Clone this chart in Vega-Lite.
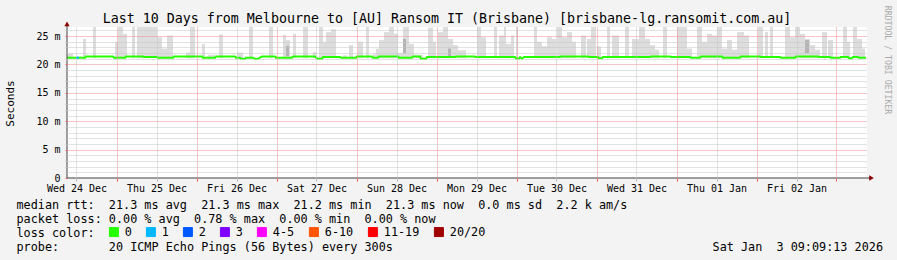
{
  "$schema": "https://vega.github.io/schema/vega-lite/v6.json",
  "width": 800,
  "height": 151,
  "autosize": {"type": "none"},
  "padding": {"left": 67, "top": 27, "right": 30, "bottom": 82},
  "background": "#f3f3f3",
  "title": {
    "text": "Last 10 Days from Melbourne to [AU] Ransom IT (Brisbane) [brisbane-lg.ransomit.com.au]",
    "font": "DejaVu Sans Mono", "fontSize": 13.3, "fontWeight": "normal", "color": "#000000",
    "anchor": "middle", "frame": "group", "dx": -20, "offset": -31, "baseline": "alphabetic"
  },
  "datasets": {
    "smoke": [
      {"start":9.15,"end":10.95,"low":21.1,"high":21.9},
      {"start":13.95,"end":14.85,"low":21.1,"high":24.5},
      {"start":16.95,"end":17.85,"low":21.1,"high":27},
      {"start":23.55,"end":24.45,"low":21.1,"high":24.0},
      {"start":24.45,"end":25.95,"low":21.1,"high":27},
      {"start":25.95,"end":27.15,"low":21.1,"high":25.4},
      {"start":28.65,"end":29.55,"low":21.1,"high":27},
      {"start":30.15,"end":33.15,"low":21.1,"high":27},
      {"start":33.15,"end":36.15,"low":21.1,"high":27},
      {"start":36.15,"end":37.65,"low":21.1,"high":24.8},
      {"start":37.65,"end":39.15,"low":21.1,"high":22.8},
      {"start":39.15,"end":40.95,"low":21.1,"high":25.1},
      {"start":44.85,"end":46.05,"low":21.1,"high":22.1},
      {"start":46.05,"end":47.55,"low":21.1,"high":27},
      {"start":49.65,"end":50.55,"low":21.1,"high":23.6},
      {"start":51.45,"end":53.55,"low":21.1,"high":21.7},
      {"start":54.75,"end":55.95,"low":21.1,"high":25.3},
      {"start":60.15,"end":61.95,"low":21.1,"high":22.1},
      {"start":63.75,"end":64.95,"low":21.1,"high":27},
      {"start":69.75,"end":70.95,"low":21.1,"high":27},
      {"start":73.95,"end":74.85,"low":21.1,"high":25.2},
      {"start":74.85,"end":76.05,"low":21.1,"high":24.3},
      {"start":76.95,"end":77.85,"low":21.1,"high":25.4},
      {"start":79.95,"end":81.45,"low":21.1,"high":27},
      {"start":82.95,"end":83.85,"low":21.1,"high":22.2},
      {"start":84.75,"end":85.95,"low":21.1,"high":27},
      {"start":85.95,"end":86.85,"low":21.1,"high":24.0},
      {"start":86.85,"end":88.35,"low":21.1,"high":25.7},
      {"start":88.35,"end":89.85,"low":21.1,"high":26.2},
      {"start":91.95,"end":93.15,"low":21.1,"high":21.6},
      {"start":93.75,"end":94.95,"low":21.1,"high":23.4},
      {"start":96.45,"end":97.95,"low":21.1,"high":24.0},
      {"start":98.85,"end":99.75,"low":21.1,"high":27},
      {"start":100.95,"end":101.85,"low":21.1,"high":21.8},
      {"start":101.85,"end":102.75,"low":21.1,"high":22.8},
      {"start":102.75,"end":104.25,"low":21.1,"high":24.3},
      {"start":104.25,"end":105.75,"low":21.1,"high":25.7},
      {"start":105.75,"end":107.25,"low":21.1,"high":27},
      {"start":107.25,"end":108.45,"low":21.1,"high":25.4},
      {"start":108.45,"end":109.95,"low":21.1,"high":22.0},
      {"start":109.95,"end":111.75,"low":21.1,"high":27},
      {"start":111.75,"end":113.25,"low":21.1,"high":23.6},
      {"start":113.25,"end":115.95,"low":21.1,"high":21.7},
      {"start":117.45,"end":118.95,"low":21.1,"high":26.5},
      {"start":118.95,"end":119.85,"low":21.1,"high":24.0},
      {"start":120.45,"end":121.95,"low":21.1,"high":25.7},
      {"start":121.95,"end":123.45,"low":21.1,"high":27},
      {"start":123.45,"end":124.95,"low":21.1,"high":24.5},
      {"start":124.95,"end":126.45,"low":21.1,"high":23.4},
      {"start":126.45,"end":128.85,"low":21.1,"high":22.5},
      {"start":132.15,"end":133.35,"low":21.1,"high":27},
      {"start":133.35,"end":134.85,"low":21.1,"high":24.8},
      {"start":137.25,"end":138.15,"low":21.1,"high":27},
      {"start":138.75,"end":140.25,"low":21.1,"high":25.1},
      {"start":140.25,"end":140.85,"low":21.1,"high":27},
      {"start":140.85,"end":142.35,"low":21.1,"high":23.6},
      {"start":142.35,"end":143.25,"low":21.1,"high":25.1},
      {"start":143.85,"end":144.45,"low":21.1,"high":27},
      {"start":149.25,"end":150.15,"low":21.1,"high":27},
      {"start":150.15,"end":151.65,"low":21.1,"high":24.0},
      {"start":151.65,"end":153.15,"low":21.1,"high":23.2},
      {"start":153.15,"end":154.65,"low":21.1,"high":24.8},
      {"start":154.65,"end":155.85,"low":21.1,"high":24.5},
      {"start":156.15,"end":157.65,"low":21.1,"high":27},
      {"start":157.65,"end":159.15,"low":21.1,"high":24.8},
      {"start":159.15,"end":160.65,"low":21.1,"high":25.7},
      {"start":160.65,"end":161.85,"low":21.1,"high":24.0},
      {"start":163.35,"end":164.85,"low":21.1,"high":25.1},
      {"start":165.15,"end":166.35,"low":21.1,"high":24.5},
      {"start":166.35,"end":167.85,"low":21.1,"high":27},
      {"start":168.15,"end":169.35,"low":21.1,"high":23.2},
      {"start":171.15,"end":172.05,"low":21.1,"high":27},
      {"start":172.65,"end":174.75,"low":21.1,"high":25.1},
      {"start":176.55,"end":177.75,"low":21.1,"high":27},
      {"start":178.65,"end":180.75,"low":21.1,"high":24.5},
      {"start":180.75,"end":182.55,"low":21.1,"high":27},
      {"start":182.55,"end":184.05,"low":21.1,"high":24.5},
      {"start":184.05,"end":185.55,"low":21.1,"high":23.4},
      {"start":185.55,"end":186.75,"low":21.1,"high":22.6},
      {"start":187.95,"end":189.15,"low":21.1,"high":27},
      {"start":192.15,"end":193.65,"low":21.1,"high":27},
      {"start":193.65,"end":195.15,"low":21.1,"high":27},
      {"start":195.15,"end":196.65,"low":21.1,"high":22.8},
      {"start":198.15,"end":199.65,"low":21.1,"high":27},
      {"start":199.65,"end":201.15,"low":21.1,"high":24.0},
      {"start":201.15,"end":202.65,"low":21.1,"high":25.4},
      {"start":202.65,"end":204.15,"low":21.1,"high":25.1},
      {"start":204.15,"end":205.65,"low":21.1,"high":27},
      {"start":205.65,"end":207.15,"low":21.1,"high":22.8},
      {"start":207.15,"end":208.65,"low":21.1,"high":24.3},
      {"start":208.65,"end":210.15,"low":21.1,"high":22.6},
      {"start":210.15,"end":212.25,"low":21.1,"high":25.7},
      {"start":212.25,"end":213.75,"low":21.1,"high":25.1},
      {"start":216.45,"end":217.95,"low":21.1,"high":27},
      {"start":218.55,"end":219.45,"low":21.1,"high":25.7},
      {"start":220.05,"end":220.95,"low":21.1,"high":27},
      {"start":224.55,"end":226.05,"low":21.1,"high":27},
      {"start":226.05,"end":227.55,"low":21.1,"high":24.8},
      {"start":227.55,"end":229.05,"low":21.1,"high":27},
      {"start":229.05,"end":230.55,"low":21.1,"high":25.4},
      {"start":230.55,"end":232.05,"low":21.1,"high":24.5},
      {"start":232.05,"end":233.55,"low":21.1,"high":23.4},
      {"start":233.55,"end":235.05,"low":21.1,"high":22.6},
      {"start":235.65,"end":237.15,"low":21.1,"high":25.7},
      {"start":237.45,"end":238.95,"low":21.1,"high":24.3},
      {"start":241.95,"end":243.15,"low":21.1,"high":27},
      {"start":243.15,"end":244.05,"low":21.1,"high":24.0},
      {"start":244.95,"end":246.15,"low":21.1,"high":27},
      {"start":246.15,"end":247.65,"low":21.1,"high":24.5},
      {"start":247.65,"end":248.55,"low":21.1,"high":22.8}
    ],
    "core": [
      {"start":109.95,"end":110.85,"low":22.0,"high":24.5},
      {"start":74.85,"end":75.75,"low":21.5,"high":23.3},
      {"start":230.55,"end":231.75,"low":22.0,"high":24.3},
      {"start":123.45,"end":124.35,"low":21.5,"high":22.8}
    ],
    "median": [
      {"hours":9.15,"rtt":21.2,"loss":"0"},{"hours":14.55,"rtt":21.2,"loss":"0"},{"hours":14.85,"rtt":21.4,"loss":"0"},
      {"hours":22.95,"rtt":21.4,"loss":"0"},{"hours":23.25,"rtt":21.2,"loss":"0"},{"hours":26.55,"rtt":21.2,"loss":"0"},
      {"hours":26.85,"rtt":21.4,"loss":"0"},{"hours":31.95,"rtt":21.4,"loss":"0"},{"hours":32.25,"rtt":21.3,"loss":"0"},
      {"hours":36.15,"rtt":21.3,"loss":"0"},{"hours":36.45,"rtt":21.2,"loss":"0"},{"hours":40.95,"rtt":21.2,"loss":"0"},
      {"hours":41.25,"rtt":21.4,"loss":"0"},{"hours":49.65,"rtt":21.4,"loss":"0"},{"hours":49.95,"rtt":21.2,"loss":"0"},
      {"hours":53.55,"rtt":21.2,"loss":"0"},{"hours":53.85,"rtt":21.4,"loss":"0"},{"hours":59.55,"rtt":21.4,"loss":"0"},
      {"hours":59.85,"rtt":21.2,"loss":"0"},{"hours":61.05,"rtt":21.2,"loss":"0"},{"hours":61.35,"rtt":21.0,"loss":"0"},
      {"hours":62.55,"rtt":21.0,"loss":"0"},{"hours":62.85,"rtt":21.2,"loss":"0"},{"hours":64.95,"rtt":21.2,"loss":"0"},
      {"hours":65.55,"rtt":21.0,"loss":"0"},{"hours":66.45,"rtt":21.0,"loss":"0"},{"hours":67.05,"rtt":21.2,"loss":"0"},
      {"hours":67.65,"rtt":21.4,"loss":"0"},{"hours":71.55,"rtt":21.4,"loss":"0"},{"hours":71.85,"rtt":21.2,"loss":"0"},
      {"hours":76.65,"rtt":21.2,"loss":"0"},{"hours":76.95,"rtt":21.4,"loss":"0"},{"hours":83.55,"rtt":21.4,"loss":"0"},
      {"hours":83.85,"rtt":21.2,"loss":"0"},{"hours":84.45,"rtt":21.0,"loss":"0"},{"hours":85.65,"rtt":21.0,"loss":"0"},
      {"hours":85.95,"rtt":21.3,"loss":"0"},{"hours":91.05,"rtt":21.3,"loss":"0"},{"hours":91.35,"rtt":21.2,"loss":"0"},
      {"hours":95.85,"rtt":21.2,"loss":"0"},{"hours":96.15,"rtt":21.4,"loss":"0"},{"hours":100.65,"rtt":21.4,"loss":"0"},
      {"hours":100.95,"rtt":21.2,"loss":"0"},{"hours":102.45,"rtt":21.2,"loss":"0"},{"hours":102.75,"rtt":21.4,"loss":"0"},
      {"hours":108.45,"rtt":21.4,"loss":"0"},{"hours":108.75,"rtt":21.2,"loss":"0"},{"hours":112.65,"rtt":21.2,"loss":"0"},
      {"hours":112.95,"rtt":21.4,"loss":"0"},{"hours":115.05,"rtt":21.4,"loss":"0"},{"hours":115.35,"rtt":21.0,"loss":"0"},
      {"hours":116.85,"rtt":21.0,"loss":"0"},{"hours":117.15,"rtt":21.3,"loss":"0"},{"hours":125.55,"rtt":21.3,"loss":"0"},
      {"hours":125.85,"rtt":21.4,"loss":"0"},{"hours":131.55,"rtt":21.4,"loss":"0"},{"hours":131.85,"rtt":21.3,"loss":"0"},
      {"hours":143.55,"rtt":21.3,"loss":"0"},{"hours":143.85,"rtt":21.05,"loss":"0"},{"hours":144.75,"rtt":21.05,"loss":"0"},
      {"hours":145.05,"rtt":21.3,"loss":"0"},{"hours":145.65,"rtt":21.05,"loss":"0"},{"hours":146.25,"rtt":21.3,"loss":"0"},
      {"hours":157.05,"rtt":21.3,"loss":"0"},{"hours":157.35,"rtt":21.4,"loss":"0"},{"hours":165.45,"rtt":21.4,"loss":"0"},
      {"hours":165.75,"rtt":21.3,"loss":"0"},{"hours":168.45,"rtt":21.3,"loss":"0"},{"hours":168.75,"rtt":21.1,"loss":"0"},
      {"hours":169.65,"rtt":21.1,"loss":"0"},{"hours":169.95,"rtt":21.3,"loss":"0"},{"hours":184.05,"rtt":21.3,"loss":"0"},
      {"hours":184.35,"rtt":21.4,"loss":"0"},{"hours":190.05,"rtt":21.4,"loss":"0"},{"hours":190.35,"rtt":21.3,"loss":"0"},
      {"hours":196.05,"rtt":21.3,"loss":"0"},{"hours":196.35,"rtt":21.2,"loss":"0"},{"hours":199.05,"rtt":21.2,"loss":"0"},
      {"hours":199.35,"rtt":21.4,"loss":"0"},{"hours":205.65,"rtt":21.4,"loss":"0"},{"hours":205.95,"rtt":21.2,"loss":"0"},
      {"hours":211.05,"rtt":21.2,"loss":"0"},{"hours":211.35,"rtt":21.4,"loss":"0"},{"hours":217.05,"rtt":21.4,"loss":"0"},
      {"hours":217.35,"rtt":21.3,"loss":"0"},{"hours":223.05,"rtt":21.3,"loss":"0"},{"hours":223.35,"rtt":21.2,"loss":"0"},
      {"hours":227.55,"rtt":21.2,"loss":"0"},{"hours":227.85,"rtt":21.4,"loss":"0"},{"hours":234.45,"rtt":21.4,"loss":"0"},
      {"hours":234.75,"rtt":21.3,"loss":"0"},{"hours":238.05,"rtt":21.3,"loss":"0"},{"hours":238.35,"rtt":21.2,"loss":"0"},
      {"hours":241.05,"rtt":21.2,"loss":"0"},{"hours":241.35,"rtt":21.3,"loss":"0"},{"hours":243.45,"rtt":21.3,"loss":"0"},
      {"hours":243.75,"rtt":21.1,"loss":"0"},{"hours":244.65,"rtt":21.1,"loss":"0"},{"hours":244.95,"rtt":21.3,"loss":"0"},
      {"hours":246.45,"rtt":21.3,"loss":"0"},{"hours":246.75,"rtt":21.2,"loss":"0"},{"hours":248.85,"rtt":21.2,"loss":"0"},
      {"hours":11.85,"rtt":21.2,"loss":"1"},{"hours":12.75,"rtt":21.2,"loss":"1"}
    ],
    "one": [{}]
  },
  "layer": [
    {
      "data": {"name": "smoke"},
      "mark": {"type": "rect", "color": "#dddddd", "clip": true},
      "encoding": {
        "x": {
          "field": "start", "type": "quantitative",
          "scale": {"domain": [9.15, 249.15], "nice": false, "zero": false},
          "axis": {
            "values": [12,18,24,30,36,42,48,54,60,66,72,78,84,90,96,102,108,114,120,126,132,138,144,150,156,162,168,174,180,186,192,198,204,210,216,222,228,234,240,246],
            "labelExpr": "datum.value % 24 === 12 ? utcFormat(utc(2025, 11, 24 + floor(datum.value / 24)), '%a %d %b') : ''",
            "labelOverlap": false, "labelFlush": false,
            "labelFont": "DejaVu Sans Mono", "labelFontSize": 10, "labelColor": "#000000",
            "labelBaseline": "top", "labelPadding": 2, "labelAlign": "center",
            "tickSize": 3,
            "tickColor": {"condition": {"test": "datum.value % 24 === 0", "value": "#e86060"}, "value": "#b8b8b8"},
            "grid": true,
            "gridColor": {"condition": {"test": "datum.value % 24 === 0", "value": "#ee8c8c"}, "value": "#c4c4c4"},
            "gridDash": [1, 1], "gridWidth": 1,
            "domain": false,
            "title": [
              "median rtt:\u00a0\u00a021.3 ms avg\u00a0\u00a021.3 ms max\u00a0\u00a021.2 ms min\u00a0\u00a021.3 ms now\u00a0\u00a00.0 ms sd\u00a0\u00a02.2 k am/s",
              "packet loss: 0.00 % avg\u00a0\u00a00.78 % max\u00a0\u00a00.00 % min\u00a0\u00a00.00 % now",
              "loss color:",
              "probe:\u00a0\u00a0\u00a0\u00a0\u00a0\u00a0\u00a020 ICMP Echo Pings (56 Bytes) every 300s\u00a0\u00a0\u00a0\u00a0\u00a0\u00a0\u00a0\u00a0\u00a0\u00a0\u00a0\u00a0\u00a0\u00a0\u00a0\u00a0\u00a0\u00a0\u00a0\u00a0\u00a0\u00a0\u00a0\u00a0\u00a0\u00a0\u00a0\u00a0\u00a0\u00a0\u00a0\u00a0\u00a0\u00a0\u00a0\u00a0\u00a0\u00a0\u00a0\u00a0\u00a0\u00a0\u00a0\u00a0\u00a0Sat Jan\u00a0\u00a03 09:09:13 2026"
            ],
            "titleFont": "DejaVu Sans Mono", "titleFontSize": 11.8, "titleFontWeight": "normal", "titleColor": "#000000",
            "titleAlign": "left", "titleBaseline": "alphabetic",
            "titleX": -51, "titleY": 30, "titleLineHeight": 14,
            "zindex": 1
          }
        },
        "x2": {"field": "end"},
        "y": {
          "field": "low", "type": "quantitative",
          "scale": {"domain": [0, 26.6], "nice": false, "zero": true},
          "axis": {
            "values": [0,1,2,3,4,5,6,7,8,9,10,11,12,13,14,15,16,17,18,19,20,21,22,23,24,25,26],
            "labelExpr": "datum.value === 0 ? '0' : (datum.value % 5 === 0 ? datum.value + ' m' : '')",
            "labelOverlap": false, "labelFont": "DejaVu Sans Mono", "labelFontSize": 10, "labelColor": "#000000",
            "labelPadding": 5, "labelBaseline": "middle",
            "tickSize": 2,
            "tickColor": {"condition": {"test": "datum.value % 5 === 0", "value": "#e86060"}, "value": "#b8b8b8"},
            "grid": true,
            "gridColor": {"condition": {"test": "datum.value % 5 === 0", "value": "#ee8c8c"}, "value": "#c4c4c4"},
            "gridOpacity": {"condition": {"test": "datum.value === 0", "value": 0}, "value": 1},
            "gridDash": [1, 1], "gridWidth": 1,
            "domain": false,
            "title": "Seconds", "titleFont": "DejaVu Sans Mono", "titleFontSize": 11, "titleFontWeight": "normal",
            "titleColor": "#000000", "titleAngle": 270, "titleX": -57, "titleY": 76,
            "titleAlign": "center", "titleBaseline": "middle",
            "zindex": 1
          }
        },
        "y2": {"field": "high"}
      }
    },
    {
      "data": {"name": "core"},
      "mark": {"type": "rect", "color": "#b4b4b4", "clip": true},
      "encoding": {
        "x": {"field": "start", "type": "quantitative"},
        "x2": {"field": "end"},
        "y": {"field": "low", "type": "quantitative", "axis": null},
        "y2": {"field": "high"}
      }
    },
    {
      "data": {"name": "median"},
      "mark": {"type": "line", "strokeWidth": 2, "clip": true},
      "encoding": {
        "x": {"field": "hours", "type": "quantitative"},
        "y": {
          "field": "rtt", "type": "quantitative",
          "axis": {
            "orient": "right", "domain": false, "ticks": false, "labels": false, "grid": false,
            "title": "RRDTOOL / TOBI OETIKER", "titleAngle": 90, "titleFont": "DejaVu Sans Mono",
            "titleFontSize": 8.2, "titleFontWeight": "normal", "titleColor": "#aaaaaa",
            "titleX": 19.5, "titleY": 32.5, "titleAlign": "center", "titleBaseline": "middle"
          }
        },
        "color": {
          "field": "loss", "type": "nominal",
          "scale": {
            "domain": ["0", "1", "2", "3", "4-5", "6-10", "11-19", "20/20"],
            "range": ["#26ff00", "#00b8ff", "#0059ff", "#7e00ff", "#ff00ff", "#ff5500", "#ff0000", "#a10000"]
          },
          "legend": {
            "orient": "none", "legendX": 41, "legendY": 199, "direction": "horizontal",
            "title": null,
            "symbolType": "square", "symbolSize": 81, "symbolStrokeWidth": 1, "symbolStrokeColor": "#000000",
            "labelFont": "DejaVu Sans Mono", "labelFontSize": 11.8, "labelColor": "#000000", "labelOffset": 5,
            "columnPadding": 12, "padding": 0,
            "encode": {"symbols": {"update": {"fill": {"scale": "color", "field": "value"}, "fillOpacity": {"value": 1}, "stroke": {"value": "#000000"}, "strokeWidth": {"value": 1}}}}
          }
        }
      }
    },
    {
      "data": {"name": "one"},
      "mark": {"type": "rule", "color": "#404040", "strokeWidth": 1},
      "encoding": {
        "x": {"datum": 9.15, "type": "quantitative"},
        "y": {"datum": 0, "type": "quantitative", "axis": null},
        "y2": {"datum": 27.1}
      }
    },
    {
      "data": {"name": "one"},
      "mark": {"type": "rule", "color": "#404040", "strokeWidth": 1},
      "encoding": {
        "x": {"datum": 9.15, "type": "quantitative"},
        "x2": {"datum": 250.2},
        "y": {"datum": 0, "type": "quantitative", "axis": null}
      }
    },
    {
      "data": {"name": "one"},
      "mark": {"type": "point", "shape": "triangle-up", "filled": true, "size": 28, "color": "#8b0000", "opacity": 1},
      "encoding": {
        "x": {"datum": 9.15, "type": "quantitative"},
        "y": {"datum": 27.15, "type": "quantitative", "axis": null}
      }
    },
    {
      "data": {"name": "one"},
      "mark": {"type": "point", "shape": "triangle-right", "filled": true, "size": 28, "color": "#8b0000", "opacity": 1},
      "encoding": {
        "x": {"datum": 250.5, "type": "quantitative"},
        "y": {"datum": 0, "type": "quantitative", "axis": null}
      }
    }
  ],
  "resolve": {"axis": {"y": "independent"}},
  "config": {"font": "DejaVu Sans Mono", "view": {"fill": "#ffffff", "stroke": null}}
}
